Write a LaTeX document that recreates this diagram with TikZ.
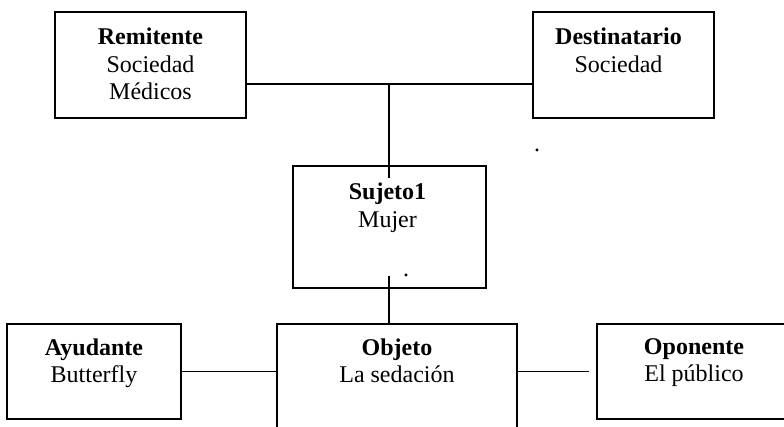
\documentclass[tikz,border=0pt]{standalone}
\usepackage{fontspec}
\setmainfont{Liberation Serif}
\tikzset{
    actant/.style = {draw=black, line width=0.9pt, rectangle, inner sep=0pt},
    actant text/.style = {anchor=north, align=center, inner sep=0pt, font=\fontsize{12}{13.8}\selectfont},
    stray dot/.style = {anchor=base, inner sep=0pt, font=\fontsize{12}{13.8}\selectfont},
    link/.style = {line width=0.8pt}
}

\begin{document}
\begin{tikzpicture}[x=0.5pt, y=-0.5pt]
        \clip (0,0) rectangle (784,427);
        % place actant boxes
        \node[actant, minimum width=95.5pt, minimum height=53pt] (remitente) at (150.5,65) {};
        \node[actant, minimum width=90.5pt, minimum height=53pt] (destinatario) at (623.5,65) {};
        \node[actant, minimum width=96.5pt, minimum height=61pt] (sujeto) at (389.5,227) {};
        \node[actant, minimum width=87pt, minimum height=47.5pt] (ayudante) at (94,371.5) {};
        \node[actant, minimum width=120pt, minimum height=68pt] (objeto) at (397,392) {};
        \node[actant, minimum width=97pt, minimum height=47.5pt] (oponente) at (694,371.5) {};

        % write the texts
        \node[actant text] (remitente-txt) at ([yshift=-8.3pt]remitente.north) {\textbf{Remitente}\\Sociedad\\Médicos};
        \node[actant text] (destinatario-txt) at ([xshift=-2.5pt, yshift=-8.3pt]destinatario.north) {\textbf{Destinatario}\\Sociedad};
        \node[actant text] (sujeto-txt) at ([xshift=-1pt, yshift=-8.8pt]sujeto.north) {\textbf{Sujeto1}\\Mujer};
        \node[actant text] (ayudante-txt) at ([yshift=-7.5pt]ayudante.north) {\textbf{Ayudante}\\Butterfly};
        \node[actant text] (objeto-txt) at ([yshift=-7.5pt]objeto.north) {\textbf{Objeto}\\La sedación};
        \node[actant text] (oponente-txt) at ([yshift=-7.5pt]oponente.north) {\textbf{Oponente}\\El público};
        \node[stray dot] (dot-1) at (537,152) {.};
        \node[stray dot] (dot-2) at (406,277) {.};

        % draw the connectors
        \coordinate (top-join) at (389,84);
        \coordinate (bottom-join) at (389,276);
        \draw[link] (remitente.east |- top-join) -- (destinatario.west |- top-join);
        \draw[link] (top-join) -- (sujeto.north -| top-join) -- ++(0,13);
        \draw[link] (bottom-join) -- (objeto.north -| bottom-join);
        \draw[link] (ayudante.east) -- (ayudante.east -| objeto.west);
        \draw[link, shorten >=3.5pt] (oponente.west -| objeto.east) -- (oponente.west);
\end{tikzpicture}
\end{document}
